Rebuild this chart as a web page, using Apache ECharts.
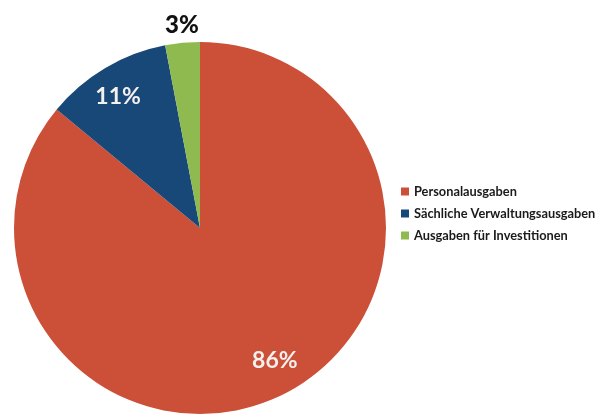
<!DOCTYPE html>
<html>
<head>
<meta charset="utf-8">
<script src="https://cdn.jsdelivr.net/npm/echarts@6/dist/echarts.min.js"></script>
<style>
  html, body { margin: 0; padding: 0; background: #fff; }
  #chart { width: 601px; height: 414px; }
</style>
</head>
<body>
<div id="chart"></div>
<script>
// Daten
var categories = ['Personalausgaben', 'Sächliche Verwaltungsausgaben', 'Ausgaben für Investitionen'];
var values = [86, 11, 3];
var colors = ['#CC4F38', '#184878', '#8EBA50'];

// Beschriftung je Segment (Farbe, Verschiebung)
var labelStyles = [
    { color: '#f4f0ee', offset: [34, 46] },
    { color: '#f4f0ee', offset: [-33, -49] },
    { color: '#111', offset: [-9, -107], fontWeight: 900, fontSize: 24 }
];

var myChart = echarts.init(document.getElementById('chart'));

var option = {
    animation: false,
    legend: {
        orient: 'vertical',
        left: 396,
        top: 180,
        icon: 'rect',
        itemWidth: 8,
        itemHeight: 8,
        itemGap: 9,
        textStyle: {
            fontFamily: 'Lato',
            fontWeight: 'bold',
            fontSize: 12.8,
            color: '#1a1a1a'
        },
        data: categories
    },
    series: [{
        type: 'pie',
        center: [200, 228],
        radius: 186,
        startAngle: 90,
        clockwise: true,
        label: {
            show: true,
            position: 'inside',
            formatter: '{c}%',
            fontFamily: 'Lato',
            fontWeight: 'bold',
            fontSize: 23
        },
        labelLine: { show: false },
        emphasis: { disabled: true },
        data: categories.map(function (name, i) {
            return {
                name: name,
                value: values[i],
                itemStyle: { color: colors[i] },
                label: labelStyles[i]
            };
        })
    }]
};

myChart.setOption(option);
</script>
</body>
</html>
